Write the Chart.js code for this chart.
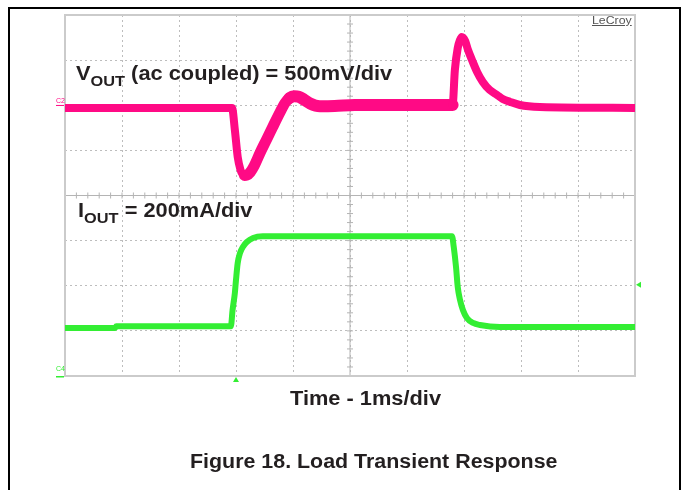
<!DOCTYPE html>
<html>
<head>
<meta charset="utf-8">
<script src="https://cdn.jsdelivr.net/npm/chart.js@4.4.0/dist/chart.umd.min.js"></script>
<style>
  html, body { margin: 0; padding: 0; background: #fff; }
  #wrap { position: relative; width: 683px; height: 490px; overflow: hidden; }
  #frame { position: absolute; left: 8px; top: 7px; width: 669px; height: 520px; border: 2px solid #000; border-bottom: none; }
  canvas { position: absolute; left: 0; top: 0; }
  .lbl { position: absolute; font-family: "Liberation Sans", Arial, sans-serif; font-weight: bold;
         font-size: 20px; line-height: 20px; color: #231f20; white-space: nowrap;
         transform: scaleX(1.09); transform-origin: 0 0; }
  .lbl .sub { font-size: 15px; position: relative; top: 6px; }
  #lecroy { position: absolute; left: 592px; top: 14px; font-family: "Liberation Sans", Arial, sans-serif;
            font-size: 11px; color: #555; text-decoration: underline; transform: scaleX(1.12); transform-origin: 0 0; }
</style>
</head>
<body>
<div id="wrap">
  <canvas id="scope" width="683" height="490"></canvas>
  <div id="frame"></div>
  <div class="lbl" style="left:76px; top:63px;">V<span class="sub">OUT</span> (ac coupled) = 500mV/div</div>
  <div class="lbl" style="left:78px; top:200px;">I<span class="sub">OUT</span> = 200mA/div</div>
  <div class="lbl" style="left:290px; top:388px;">Time - 1ms/div</div>
  <div class="lbl" style="left:190px; top:451px; transform:scaleX(1.07);">Figure 18. Load Transient Response</div>
  <div id="lecroy">LeCroy</div>
</div>
<script>
// --- data (time in ms, 1ms/div) ---
const voutTimeMs = [0, 2.93, 2.98, 3.03, 3.08, 3.11, 3.15, 3.19, 3.25, 3.32, 3.42, 3.54, 3.64, 3.77, 3.86, 3.94, 4.02, 4.10, 4.20, 4.30, 4.47, 4.73, 5.08, 5.87, 6.80, 6.84, 6.89, 6.93, 6.96, 7.02, 7.07, 7.14, 7.23, 7.33, 7.45, 7.58, 7.68, 7.81, 7.98, 8.33, 10];
const voutMv =     [0, 0, -244, -543, -688, -728, -748, -745, -712, -640, -500, -345, -215, -50, 55, 110, 130, 125, 90, 50, 20, 22, 33, 33, 33, 421, 665, 754, 787, 743, 643, 532, 399, 288, 200, 144, 100, 67, 33, 11, 0];

const ioutTimeMs = [0, 0.88, 0.90, 2.91, 2.94, 2.98, 3.00, 3.03, 3.07, 3.12, 3.19, 3.30, 3.47, 6.79, 6.82, 6.86, 6.89, 6.93, 6.98, 7.05, 7.16, 7.28, 7.63, 10];
const ioutMa =     [213, 213, 220, 220, 293, 368, 426, 501, 545, 572, 594, 612, 619, 619, 572, 483, 395, 337, 293, 257, 235, 226, 217, 217];

// scope settings
const TIME_DIVS = 10;
const V_PER_DIV = 500;      // mV
const I_PER_DIV = 200;      // mA
const V_ZERO_DIV = 1.94;    // C2 offset, divisions above centre
const I_ZERO_DIV = -4;      // C4 offset
const TRIG_TIME = 3;        // ms
const TRIG_LEVEL = 404;     // mA

const VOUT_COLOR = "#ff0a85";
const IOUT_COLOR = "#33ee33";
const GRID_COLOR = "#bdbdbd";

const toPts = (xs, ys) => xs.map((t, i) => ({ x: t, y: ys[i] }));

// noise band of the Vout trace is wider after the dip
function voutWidth(c) {
    const t = c.p0.parsed.x;
    if (t >= 3.9 && t < 6.8) return 12;
    if (t >= 3.15 && t < 3.9) return 11;
    return 8;
}

const scopeDecor = {
    id: "scopeDecor",
    beforeDatasetsDraw(chart) {
        const { ctx, chartArea: a, scales: { x, y } } = chart;
        const cx = x.getPixelForValue(TIME_DIVS / 2);
        const cy = y.getPixelForValue(0);
        ctx.save();
        ctx.strokeStyle = "#b4b4b4";
        ctx.lineWidth = 1;
        ctx.beginPath();
        ctx.moveTo(a.left, cy); ctx.lineTo(a.right, cy);
        ctx.moveTo(cx, a.top); ctx.lineTo(cx, a.bottom);
        // minor ticks, 5 per division
        for (let i = 0; i <= TIME_DIVS * 5; i++) {
            const px = x.getPixelForValue(i / 5);
            ctx.moveTo(px, cy - 3); ctx.lineTo(px, cy + 3);
        }
        for (let i = -20; i <= 20; i++) {
            const py = y.getPixelForValue(i / 5);
            ctx.moveTo(cx - 3, py); ctx.lineTo(cx + 3, py);
        }
        ctx.stroke();
        ctx.lineWidth = 2;
        ctx.strokeStyle = "#cbcbcb";
        ctx.strokeRect(a.left, a.top, a.width, a.height);
        ctx.restore();
    },
    afterDraw(chart) {
        const { ctx, chartArea: a, scales: { x, yV, yI } } = chart;
        ctx.save();
        ctx.font = "7px 'Liberation Sans', Arial, sans-serif";
        ctx.textBaseline = "bottom";
        // channel offset markers
        const v0 = yV.getPixelForValue(0);
        ctx.fillStyle = VOUT_COLOR;
        ctx.fillText("C2", a.left - 9, v0 - 3);
        ctx.fillRect(a.left - 9, v0 - 3, 8, 1);
        const i0 = yI.getPixelForValue(0);
        ctx.fillStyle = IOUT_COLOR;
        ctx.fillText("C4", a.left - 9, i0 - 3);
        ctx.fillRect(a.left - 9, i0, 8, 1.5);
        // trigger position
        const tx = x.getPixelForValue(TRIG_TIME);
        ctx.beginPath();
        ctx.moveTo(tx, a.bottom + 1); ctx.lineTo(tx - 3, a.bottom + 6); ctx.lineTo(tx + 3, a.bottom + 6);
        ctx.closePath(); ctx.fill();
        // trigger level
        const ty = yI.getPixelForValue(TRIG_LEVEL);
        ctx.beginPath();
        ctx.moveTo(a.right + 1, ty); ctx.lineTo(a.right + 6, ty - 3); ctx.lineTo(a.right + 6, ty + 3);
        ctx.closePath(); ctx.fill();
        ctx.restore();
    }
};

const gridOpts = { color: GRID_COLOR, lineWidth: 1, drawTicks: false };
const borderOpts = { display: false, dash: [2, 3] };

new Chart(document.getElementById("scope").getContext("2d"), {
    type: "line",
    data: {
        datasets: [
            {
                label: "VOUT",
                data: toPts(voutTimeMs, voutMv),
                yAxisID: "yV",
                borderColor: VOUT_COLOR,
                borderWidth: 8,
                pointRadius: 0,
                cubicInterpolationMode: "monotone",
                borderJoinStyle: "round",
                borderCapStyle: "round",
                segment: { borderWidth: voutWidth }
            },
            {
                label: "IOUT",
                data: toPts(ioutTimeMs, ioutMa),
                yAxisID: "yI",
                borderColor: IOUT_COLOR,
                borderWidth: 6,
                pointRadius: 0,
                cubicInterpolationMode: "monotone",
                borderJoinStyle: "round"
            }
        ]
    },
    options: {
        responsive: false,
        animation: false,
        layout: { padding: { left: 65, top: 15, right: 48, bottom: 114 } },
        plugins: { legend: { display: false }, tooltip: { enabled: false } },
        scales: {
            x: {
                type: "linear", min: 0, max: TIME_DIVS,
                ticks: { display: false, stepSize: 1 },
                grid: gridOpts, border: borderOpts
            },
            y: {
                type: "linear", min: -4, max: 4,
                ticks: { display: false, stepSize: 1 },
                grid: gridOpts, border: borderOpts
            },
            yV: {
                display: false,
                min: -(4 + V_ZERO_DIV) * V_PER_DIV,
                max: (4 - V_ZERO_DIV) * V_PER_DIV
            },
            yI: {
                display: false,
                min: (-4 - I_ZERO_DIV) * I_PER_DIV,
                max: (4 - I_ZERO_DIV) * I_PER_DIV
            }
        }
    },
    plugins: [scopeDecor]
});
</script>
</body>
</html>
